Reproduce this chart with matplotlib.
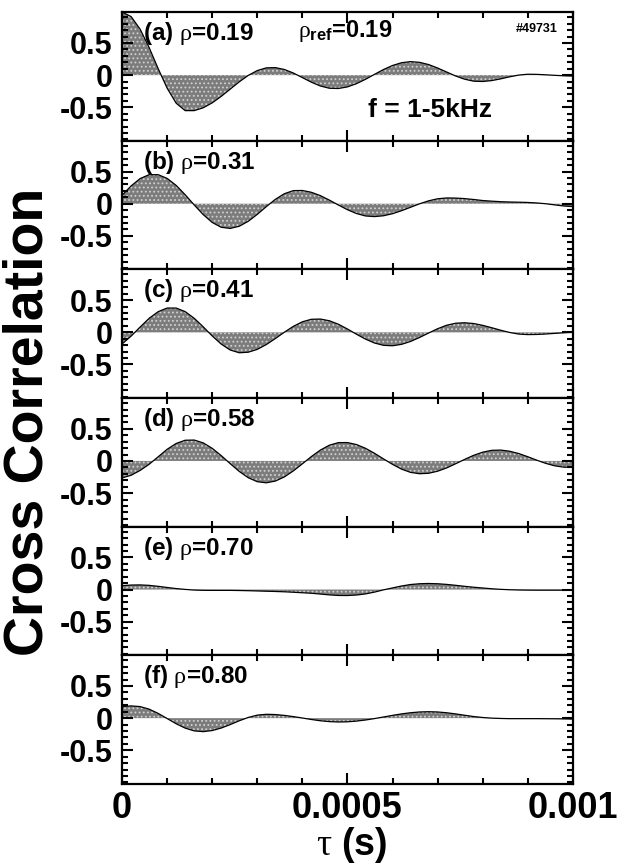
import numpy as np
import matplotlib
matplotlib.use("Agg")
import matplotlib.pyplot as plt
from matplotlib.ticker import MultipleLocator

# time lag grid (s), values every 0.02 ms
tau = np.linspace(0, 0.001, 51)

corr_a = [0.98, 0.911, 0.715, 0.429, 0.103, -0.203, -0.436, -0.552, -0.552, -0.508,
          -0.431, -0.330, -0.217, -0.104, -0.004, 0.071, 0.113, 0.117, 0.088, 0.033,
          -0.038, -0.110, -0.169, -0.204, -0.208, -0.183, -0.133, -0.065, 0.012, 0.087,
          0.150, 0.193, 0.210, 0.199, 0.165, 0.111, 0.049, -0.013, -0.063, -0.094,
          -0.099, -0.085, -0.058, -0.026, 0.001, 0.014, 0.012, 0.005, -0.003, -0.010,
          -0.015]
corr_b = [0.13, 0.277, 0.391, 0.452, 0.452, 0.394, 0.285, 0.140, -0.018, -0.169,
          -0.291, -0.366, -0.384, -0.350, -0.273, -0.165, -0.045, 0.068, 0.156, 0.204,
          0.206, 0.178, 0.126, 0.056, -0.020, -0.093, -0.152, -0.190, -0.200, -0.187,
          -0.155, -0.109, -0.055, -0.001, 0.045, 0.077, 0.090, 0.088, 0.080, 0.066,
          0.050, 0.040, 0.032, 0.027, 0.024, 0.020, 0.012, 0.000, -0.018, -0.035,
          -0.045]
corr_c = [-0.181, -0.059, 0.082, 0.218, 0.321, 0.378, 0.378, 0.322, 0.219, 0.086,
          -0.056, -0.183, -0.275, -0.318, -0.309, -0.265, -0.190, -0.097, 0.002, 0.093,
          0.164, 0.203, 0.207, 0.180, 0.126, 0.052, -0.029, -0.105, -0.166, -0.202,
          -0.209, -0.187, -0.142, -0.080, -0.011, 0.056, 0.110, 0.142, 0.149, 0.137,
          0.109, 0.072, 0.033, -0.002, -0.027, -0.035, -0.033, -0.026, -0.016, -0.007,
          0.0]
corr_d = [-0.264, -0.223, -0.148, -0.052, 0.064, 0.181, 0.272, 0.322, 0.325, 0.281,
          0.196, 0.083, -0.043, -0.163, -0.261, -0.323, -0.340, -0.313, -0.249, -0.155,
          -0.045, 0.068, 0.169, 0.245, 0.285, 0.286, 0.255, 0.197, 0.119, 0.032,
          -0.053, -0.127, -0.178, -0.199, -0.192, -0.160, -0.109, -0.044, 0.024, 0.087,
          0.136, 0.165, 0.169, 0.151, 0.115, 0.066, 0.012, -0.038, -0.076, -0.097,
          -0.10]
corr_e = [0.06, 0.07, 0.072, 0.065, 0.05, 0.032, 0.015, 0.002, -0.008, -0.012,
          -0.013, -0.013, -0.013, -0.015, -0.018, -0.022, -0.026, -0.030, -0.035, -0.042,
          -0.050, -0.058, -0.070, -0.083, -0.092, -0.093, -0.085, -0.068, -0.040, -0.005,
          0.025, 0.055, 0.078, 0.090, 0.094, 0.090, 0.080, 0.066, 0.050, 0.036,
          0.024, 0.012, 0.003, -0.003, -0.007, -0.009, -0.010, -0.010, -0.010, -0.010,
          -0.010]
corr_f = [0.18, 0.19, 0.18, 0.14, 0.074, -0.006, -0.087, -0.155, -0.198, -0.210,
          -0.193, -0.154, -0.100, -0.041, 0.011, 0.047, 0.06, 0.056, 0.043, 0.024,
          0.002, -0.021, -0.041, -0.054, -0.060, -0.057, -0.046, -0.029, -0.007, 0.018,
          0.043, 0.066, 0.084, 0.096, 0.10, 0.096, 0.084, 0.066, 0.045, 0.025,
          0.010, 0.0, -0.005, -0.008, -0.008, -0.008, -0.008, -0.009, -0.010, -0.012,
          -0.015]

panel_letters = ["a", "b", "c", "d", "e", "f"]
rho_values = ["0.19", "0.31", "0.41", "0.58", "0.70", "0.80"]
y_ticks = [-0.5, 0, 0.5]
y_ticklabels = ["-0.5", "0", "0.5"]
x_ticks = [0, 0.0005, 0.001]
x_ticklabels = ["0", "0.0005", "0.001"]

plt.rcParams["font.family"] = ["Liberation Sans", "DejaVu Sans"]
plt.rcParams["mathtext.fontset"] = "custom"
plt.rcParams["mathtext.it"] = "Liberation Serif"
plt.rcParams["mathtext.rm"] = "Liberation Sans"
plt.rcParams["mathtext.bf"] = "Liberation Sans:bold"
plt.rcParams["hatch.linewidth"] = 0.8

fig, axes = plt.subplots(6, 1, figsize=(6.26, 8.66), dpi=100, sharex=True)
fig.subplots_adjust(left=0.195, right=0.915, top=0.986, bottom=0.095, hspace=0)

series = [corr_a, corr_b, corr_c, corr_d, corr_e, corr_f]
for i, ax in enumerate(axes):
    y = np.array(series[i])
    ax.fill_between(tau, y, 0, facecolor="#7c7c7c", edgecolor="#d0d0d0",
                    hatch="....", linewidth=0)
    ax.plot(tau, y, color="black", lw=0.9)
    ax.set_xlim(0, 0.001)
    ax.set_ylim(-1.02, 0.98)
    ax.set_yticks(y_ticks)
    ax.set_yticklabels(y_ticklabels, fontsize=22, fontweight="bold")
    ax.yaxis.set_minor_locator(MultipleLocator(0.1))
    ax.set_xticks(x_ticks)
    ax.xaxis.set_minor_locator(MultipleLocator(0.0001))
    ax.tick_params(which="both", direction="in", top=True, right=True, width=1.5)
    ax.tick_params(which="major", length=8)
    ax.tick_params(which="minor", length=4.5)
    ax.tick_params(axis="y", pad=7)
    for s in ax.spines.values():
        s.set_linewidth(1.6)
    ax.text(0.047, 0.782, "(%s) $\\rho$=%s" % (panel_letters[i], rho_values[i]),
            transform=ax.transAxes, fontsize=17.5, fontweight="bold")

axes[-1].set_xticklabels(x_ticklabels, fontsize=26, fontweight="bold")
axes[-1].tick_params(axis="x", pad=5)

# extra annotations on the top panel
axes[0].text(0.39, 0.806, r"$\rho_{\mathbf{ref}}$=0.19", transform=axes[0].transAxes,
             fontsize=17, fontweight="bold")
axes[0].text(0.967, 0.845, "#49731", transform=axes[0].transAxes, ha="right",
             fontsize=9, fontweight="bold")
axes[0].text(0.545, 0.184, "f = 1-5kHz", transform=axes[0].transAxes,
             fontsize=19, fontweight="bold")

fig.text(0.045, 0.513, "Cross Correlation", rotation=90, ha="center", va="center",
         fontsize=40, fontweight="bold")
fig.text(0.562, 0.001, r"$\tau$ (s)", ha="center", va="bottom",
         fontsize=27, fontweight="bold")

fig.savefig("out.png", dpi=100)
